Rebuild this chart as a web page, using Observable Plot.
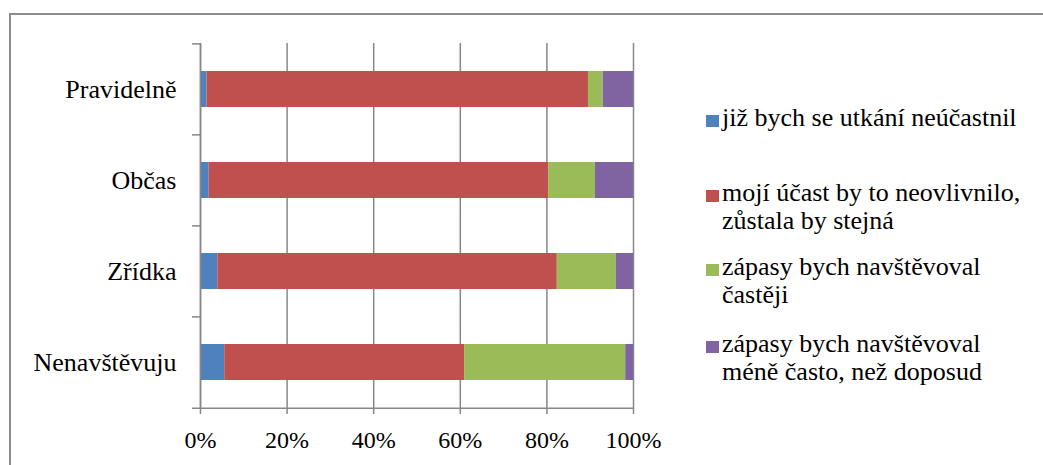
<!DOCTYPE html>
<html>
<head>
<meta charset="utf-8">
<script src="https://cdn.jsdelivr.net/npm/d3@7"></script>
<script src="https://cdn.jsdelivr.net/npm/@observablehq/plot@0.6"></script>
<style>
  html, body { margin: 0; padding: 0; background: #fff; font-family: 'Liberation Serif', serif; }
  #wrap { position: relative; width: 1043px; height: 465px; overflow: hidden; font-family: 'Liberation Serif', serif; }
  #frame { position: absolute; left: 9px; top: 13px; width: 1100px; height: 500px; border-left: 2px solid #8c8c8c; border-top: 2px solid #8c8c8c; }
  #chart { position: absolute; left: 0; top: 0; }
  #chart svg, #chart svg text { font-family: 'Liberation Serif', serif !important; }
  .item { position: absolute; left: 706px; font-size: 26px; line-height: 28px; color: #000; white-space: nowrap; font-family: 'Liberation Serif', serif; }
  .sw { position: absolute; left: 0; width: 13px; height: 12px; }
  .txt { position: absolute; left: 16px; top: 0; }
</style>
</head>
<body>
<div id="wrap">
  <div id="frame"></div>
  <div id="chart"></div>
  <div id="legend"></div>
</div>
<script>
// Categories (top to bottom)
const categories = ["Pravidelně", "Občas", "Zřídka", "Nenavštěvuju"];
// Series names
const seriesNames = [
  "již bych se utkání neúčastnil",
  "mojí účast by to neovlivnilo, zůstala by stejná",
  "zápasy bych navštěvoval častěji",
  "zápasy bych navštěvoval méně často, než doposud"
];
// Legend text lines
const legendLines = [
  ["již bych se utkání neúčastnil"],
  ["mojí účast by to neovlivnilo,", "zůstala by stejná"],
  ["zápasy bych navštěvoval", "častěji"],
  ["zápasy bych navštěvoval", "méně často, než doposud"]
];
// Values (share, per category in the order above)
const neucastnil = [0.015, 0.020, 0.040, 0.056];
const neovlivnilo = [0.881, 0.784, 0.784, 0.554];
const casteji = [0.034, 0.108, 0.136, 0.372];
const meneCasto = [0.070, 0.088, 0.040, 0.018];
const seriesValues = [neucastnil, neovlivnilo, casteji, meneCasto];
const colors = ["#4F81BD", "#C0504D", "#9BBB59", "#8064A2"];
const xTicks = [0, 0.2, 0.4, 0.6, 0.8, 1];
const xTickLabels = ["0%", "20%", "40%", "60%", "80%", "100%"];

const data = [];
seriesNames.forEach((s, si) => {
  categories.forEach((c, ci) => {
    data.push({category: c, series: s, value: seriesValues[si][ci]});
  });
});

const W = 1043, H = 465;
const mTop = 43, mBottom = 57, mLeft = 200, mRight = 410;
const halfStep = (H - mTop - mBottom) / categories.length / 2;
const tickLen = 0.0185;

const chart = Plot.plot({
  width: W,
  height: H,
  marginTop: mTop,
  marginBottom: mBottom,
  marginLeft: mLeft,
  marginRight: mRight,
  style: {fontFamily: "Liberation Serif", background: "transparent", color: "#000"},
  x: {domain: [0, 1]},
  y: {domain: categories, paddingInner: 0.6, paddingOuter: 0.3},
  color: {domain: seriesNames, range: colors},
  marks: [
    Plot.ruleX(xTicks, {x: d => d, stroke: "#878787", strokeWidth: 1.5}),
    Plot.barX(data, Plot.stackX({y: "category", x: "value", fill: "series"})),
    // y-axis line
    Plot.ruleX([0], {stroke: "#878787", strokeWidth: 1.5}),
    // category boundary ticks on the y axis
    Plot.ruleY(categories, {y: d => d, x1: -tickLen, x2: 0, dy: -halfStep, stroke: "#878787", strokeWidth: 1.5}),
    Plot.ruleY([categories[categories.length - 1]], {y: d => d, x1: -tickLen, x2: 1, dy: halfStep, stroke: "#878787", strokeWidth: 1.5}),
    Plot.axisX({ticks: xTicks, tickFormat: (d) => xTickLabels[xTicks.indexOf(d)], tickSize: 6, tickPadding: 16, stroke: "#878787", strokeWidth: 1.5, fontSize: 24, fill: "#000", label: null}),
    Plot.axisY({tickSize: 0, tickPadding: 24, fontSize: 26, fill: "#000", label: null})
  ]
});
document.getElementById("chart").appendChild(chart);

// Legend
const tops = [104, 179, 253, 330];
const legend = document.getElementById("legend");
legendLines.forEach((lines, i) => {
  const item = document.createElement("div");
  item.className = "item";
  item.style.top = tops[i] + "px";
  const sw = document.createElement("div");
  sw.className = "sw";
  sw.style.background = colors[i];
  sw.style.top = "11px";
  item.appendChild(sw);
  const t = document.createElement("div");
  t.className = "txt";
  t.innerHTML = lines.join("<br>");
  item.appendChild(t);
  legend.appendChild(item);
});
</script>
</body>
</html>
